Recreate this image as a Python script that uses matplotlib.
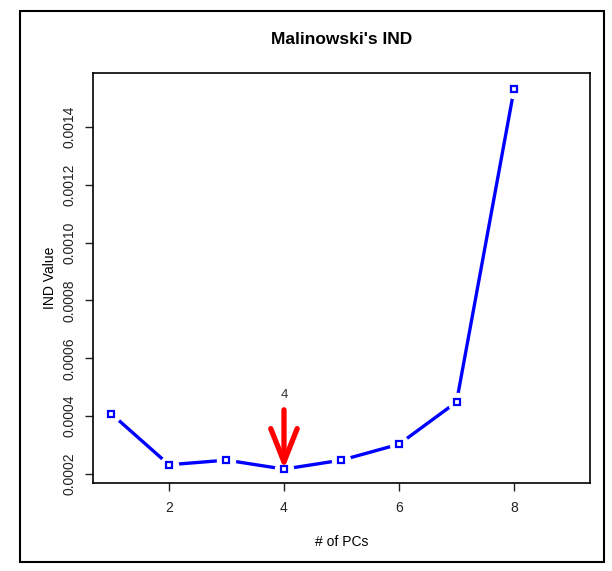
import numpy as np
import matplotlib.pyplot as plt
from matplotlib.patches import Rectangle

plt.rcParams["font.family"] = ["Liberation Sans", "DejaVu Sans"]

# values
n_pcs = [1, 2, 3, 4, 5, 6, 7, 8]
ind_values = [0.000408, 0.000232, 0.000248, 0.000217, 0.000248, 0.000303, 0.000449, 0.00153]
x_ticks = [2, 4, 6, 8]
y_ticks = [0.0002, 0.0004, 0.0006, 0.0008, 0.0010, 0.0012, 0.0014]
best_pc = 4

fig = plt.figure(figsize=(6.12, 5.71), dpi=100)
ax = fig.add_axes([93 / 612, 88 / 571, 497 / 612, 410 / 571])

blue = "#0000ff"
ax.plot(n_pcs, ind_values, color=blue, lw=2.4, zorder=2)
# R type="b": leave a little gap around each point
ax.plot(n_pcs, ind_values, ls="none", marker="o", ms=14, mfc="white", mec="none", zorder=3)
ax.plot(n_pcs, ind_values, ls="none", marker="s", ms=5, mfc="white", mec=blue, mew=1.6, zorder=4)

# red arrow marking the chosen number of PCs
best_val = ind_values[n_pcs.index(best_pc)]
ax.annotate("", xy=(best_pc, best_val), xytext=(best_pc, best_val + 0.000205),
            arrowprops=dict(arrowstyle="->,head_length=2.4,head_width=0.95",
                            color="red", lw=3.8, shrinkA=0, shrinkB=0), zorder=5)
ax.text(best_pc, best_val + 0.000255, str(best_pc), ha="center", va="center",
        fontsize=9.5, color="#333333")

ax.set_xlim(0.68, 9.32)
ax.set_ylim(0.000169, 0.001586)
ax.set_xticks(x_ticks)
ax.set_yticks(y_ticks)
ax.set_yticklabels([f"{v:.4f}" for v in y_ticks], rotation=90, va="center")
ax.tick_params(axis="both", labelsize=10, length=6, width=1, colors="#222222", pad=7)
ax.tick_params(axis="y", pad=6)
for s in ax.spines.values():
    s.set_linewidth(1.2)

ax.set_title("Malinowski's IND", fontsize=12.5, fontweight="bold", pad=21)
ax.set_xlabel("# of PCs", fontsize=10, labelpad=14)
ax.set_ylabel("IND Value", fontsize=10, labelpad=4)

# frame round the whole picture
fig.patches.append(Rectangle((20 / 612, 9 / 571), 584 / 612, 551 / 571,
                             transform=fig.transFigure, fill=False, lw=1.5, ec="black"))

fig.savefig("out.png", dpi=100)
